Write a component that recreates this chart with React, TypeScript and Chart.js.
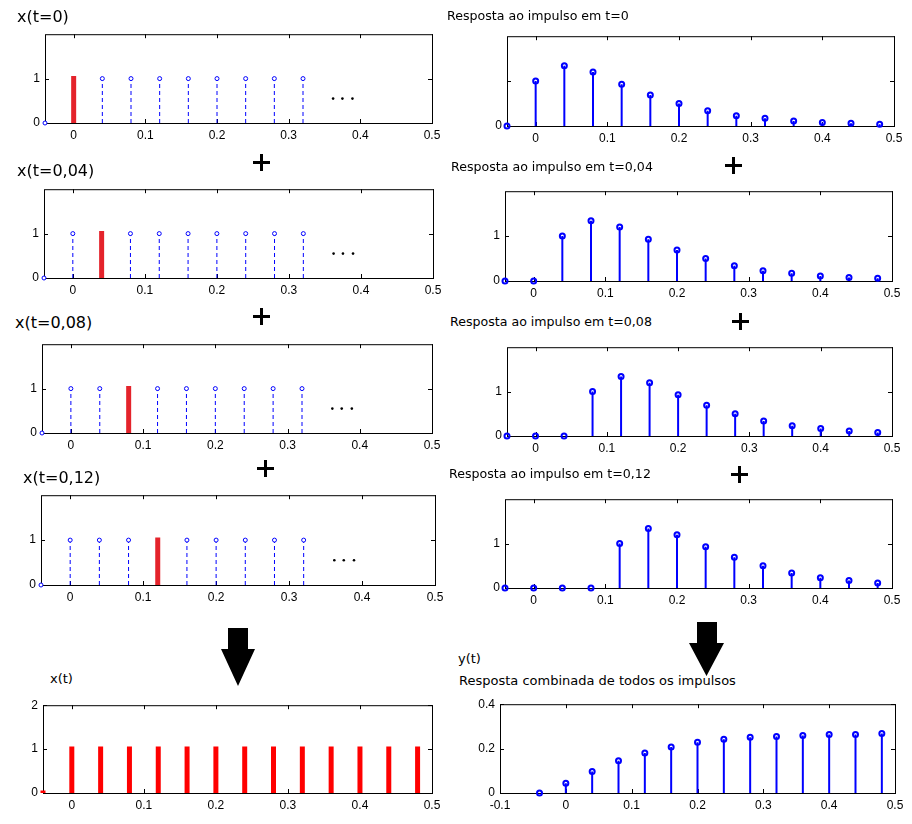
import React, { useEffect, useRef } from 'react';
import { Chart, registerables } from 'chart.js';
Chart.register(...registerables);

// ---------------- data ----------------
const tGrid = [-0.04, 0, 0.04, 0.08, 0.12, 0.16, 0.2, 0.24, 0.28, 0.32, 0.36, 0.4, 0.44, 0.48];
const impulseTimes = [0, 0.04, 0.08, 0.12, 0.16, 0.2, 0.24, 0.28, 0.32];
const impulseHeight = 1;
const highlighted = [0, 0.04, 0.08, 0.12];
const ellipsisT = [0.362, 0.375, 0.389];
const ellipsisY = [0.55, 0.55, 0.55];
const hResponse = [1, 1.34, 1.2, 0.93, 0.69, 0.5, 0.34, 0.23, 0.17, 0.11, 0.08, 0.06, 0.04];
const trainTimes = [0, 0.04, 0.08, 0.12, 0.16, 0.2, 0.24, 0.28, 0.32, 0.36, 0.4, 0.44, 0.48];
const trainValues = [1, 1, 1, 1, 1, 1, 1, 1, 1, 1, 1, 1, 1];
const yCombined = [0, 0.044, 0.097, 0.145, 0.18, 0.207, 0.229, 0.242, 0.251, 0.255, 0.259, 0.264, 0.264, 0.268];
const xTicks = [0, 0.1, 0.2, 0.3, 0.4, 0.5];
const xTicksCombined = [-0.1, 0, 0.1, 0.2, 0.3, 0.4, 0.5];
const yTicksUnit = [0, 1];
const yTicksTrain = [0, 1, 2];
const yTicksCombined = [0, 0.2, 0.4];
const leftTitles = ['x(t=0)', 'x(t=0,04)', 'x(t=0,08)', 'x(t=0,12)'];
const rightTitles = [
  'Resposta ao impulso em t=0',
  'Resposta ao impulso em t=0,04',
  'Resposta ao impulso em t=0,08',
  'Resposta ao impulso em t=0,12',
];

// ---------------- layout ----------------
const ML = 45, MR = 15, MT = 10, MB = 30;
const BLUE = '#0000ff';
const RED_TOP = '#e4232b';
const RED = '#ff0000';
const TICK_FONT = { family: '"Liberation Sans", Arial, sans-serif', size: 12 };

const fmt = (v: number) => (Math.abs(v) < 1e-9 ? '0' : String(Math.round(v * 100) / 100));

const stemData = (xs: number[], ys: number[]) =>
  xs.flatMap((x, i) => [{ x, y: 0 }, { x, y: ys[i] }, { x, y: null }]);
const pointData = (xs: number[], ys: number[]) => xs.map((x, i) => ({ x, y: ys[i] }));

const boxPlugin = {
  id: 'boxTicks',
  beforeDatasetsDraw(chart: any) {
    const { ctx, chartArea: a, scales } = chart;
    const xs = chart.options.plugins.boxTicks.x as number[];
    const ys = chart.options.plugins.boxTicks.y as number[];
    ctx.save();
    ctx.strokeStyle = '#000';
    ctx.lineWidth = 1;
    ctx.strokeRect(a.left + 0.5, a.top + 0.5, a.right - a.left, a.bottom - a.top);
    ctx.beginPath();
    const TL = 4;
    xs.forEach((v) => {
      const px = Math.round(scales.x.getPixelForValue(v)) + 0.5;
      ctx.moveTo(px, a.bottom); ctx.lineTo(px, a.bottom - TL);
      ctx.moveTo(px, a.top); ctx.lineTo(px, a.top + TL);
    });
    ys.forEach((v) => {
      const py = Math.round(scales.y.getPixelForValue(v)) + 0.5;
      ctx.moveTo(a.left, py); ctx.lineTo(a.left + TL, py);
      ctx.moveTo(a.right, py); ctx.lineTo(a.right - TL, py);
    });
    ctx.stroke();
    ctx.restore();
  },
};

type PanelSpec = {
  box: number[];
  xMin: number; xMax: number; xT: number[];
  yMin: number; yMax: number; yT: number[];
  yHidden?: number[];
  datasets: any[];
};

function StemPanel({ spec }: { spec: PanelSpec }) {
  const ref = useRef<HTMLCanvasElement>(null);
  const [L, T, R, B] = spec.box;
  const W = R - L + ML + MR;
  const H = B - T + MT + MB;
  useEffect(() => {
    const chart = new Chart(ref.current as HTMLCanvasElement, {
      type: 'line',
      data: { datasets: spec.datasets },
      options: {
        responsive: false,
        animation: false,
        devicePixelRatio: 1,
        events: [],
        layout: { padding: { top: MT, right: MR, left: 0, bottom: 0 } },
        plugins: {
          legend: { display: false },
          tooltip: { enabled: false },
          boxTicks: { x: spec.xT, y: spec.yT },
        } as any,
        scales: {
          x: {
            type: 'linear',
            min: spec.xMin,
            max: spec.xMax,
            grid: { display: false, drawTicks: false },
            border: { display: false },
            afterBuildTicks: (s: any) => { s.ticks = spec.xT.map((v) => ({ value: v })); },
            afterFit: (s: any) => { s.height = MB; },
            ticks: {
              font: TICK_FONT, color: '#000', padding: 5, maxRotation: 0, autoSkip: false,
              callback: (v: any) => fmt(Number(v)),
            },
          },
          y: {
            type: 'linear',
            min: spec.yMin,
            max: spec.yMax,
            grid: { display: false, drawTicks: false },
            border: { display: false },
            afterBuildTicks: (s: any) => { s.ticks = spec.yT.map((v) => ({ value: v })); },
            afterFit: (s: any) => { s.width = ML; },
            ticks: {
              font: TICK_FONT, color: '#000', padding: 5, autoSkip: false,
              callback: (v: any) => ((spec.yHidden || []).includes(Number(v)) ? '' : fmt(Number(v))),
            },
          },
        },
      } as any,
      plugins: [boxPlugin as any],
    });
    return () => chart.destroy();
  }, []);
  return (
    <canvas
      ref={ref}
      width={W}
      height={H}
      style={{ position: 'absolute', left: L - ML, top: T - MT, width: W, height: H }}
    />
  );
}

// ---------------- panel specs ----------------
const leftBoxes = [[45, 32, 432, 123], [44, 187, 433, 278], [42, 342, 432, 433], [41, 493, 435, 585]];
const rightBoxes = [[507, 34, 894, 126], [505, 189, 892, 281], [507, 345, 892, 436], [505, 497, 892, 588]];

const markerStyle = (color: string, r: number, bw: number, bg: string) => ({
  showLine: false,
  pointRadius: r,
  pointBorderWidth: bw,
  pointBorderColor: color,
  pointBackgroundColor: bg,
  pointHoverRadius: r,
  clip: false,
});

function leftSpec(k: number): PanelSpec {
  const tk = highlighted[k];
  const others = impulseTimes.filter((t) => t !== tk);
  const ones = others.map(() => impulseHeight);
  return {
    box: leftBoxes[k],
    xMin: -0.04, xMax: 0.5, xT: xTicks,
    yMin: 0, yMax: 2, yT: yTicksUnit,
    datasets: [
      { data: pointData([tGrid[0], ...others], [0, ...ones]), ...markerStyle(BLUE, 2, 1, '#fff'), order: 0 },
      { data: pointData(ellipsisT, ellipsisY), ...markerStyle('#000', 1.3, 0, '#000'), order: 0 },
      {
        data: stemData([tk], [impulseHeight]), borderColor: RED_TOP, borderWidth: 5,
        borderCapStyle: 'square', pointRadius: 0, spanGaps: false,
        clip: { left: 10, right: 10, top: 10, bottom: 0 }, order: 1,
      },
      {
        data: stemData(others, ones), borderColor: BLUE, borderWidth: 1, borderDash: [4, 3],
        pointRadius: 0, spanGaps: false, order: 2,
      },
    ],
  };
}

function rightSpec(k: number): PanelSpec {
  const vals = tGrid.map((_, i) => (i - 1 - k >= 0 ? hResponse[i - 1 - k] : 0));
  return {
    box: rightBoxes[k],
    xMin: -0.04, xMax: 0.5, xT: xTicks,
    yMin: 0, yMax: 2, yT: yTicksUnit,
    yHidden: k === 0 ? [1] : [],
    datasets: [
      { data: pointData(tGrid, vals), ...markerStyle(BLUE, 2.5, 2, 'rgba(0,0,0,0)'), order: 0 },
      { data: stemData(tGrid, vals), borderColor: BLUE, borderWidth: 2, pointRadius: 0, spanGaps: false, order: 1 },
    ],
  };
}

const trainSpec: PanelSpec = {
  box: [43, 703, 432, 793],
  xMin: -0.04, xMax: 0.5, xT: xTicks,
  yMin: 0, yMax: 2, yT: yTicksTrain,
  datasets: [
    {
      data: stemData([tGrid[0], ...trainTimes], [0, ...trainValues]), borderColor: RED, borderWidth: 5,
      borderCapStyle: 'square', pointRadius: 0, spanGaps: false,
      clip: { left: 10, right: 10, top: 10, bottom: 0 },
    },
  ],
};

const combinedSpec: PanelSpec = {
  box: [500, 702, 895, 793],
  xMin: -0.1, xMax: 0.5, xT: xTicksCombined,
  yMin: 0, yMax: 0.4, yT: yTicksCombined,
  datasets: [
    { data: pointData(tGrid, yCombined), ...markerStyle(BLUE, 2.5, 2, 'rgba(0,0,0,0)'), order: 0 },
    { data: stemData(tGrid, yCombined), borderColor: BLUE, borderWidth: 2, pointRadius: 0, spanGaps: false, order: 1 },
  ],
};

// ---------------- decorations ----------------
function Label({ text, left, baseline, size }: { text: string; left: number; baseline: number; size: number }) {
  return (
    <div
      style={{
        position: 'absolute', left, top: baseline - 0.846 * size,
        font: `${size}px "DejaVu Sans", sans-serif`, lineHeight: `${size}px`,
        whiteSpace: 'nowrap', color: '#000',
      }}
    >
      {text}
    </div>
  );
}

function Plus({ cx, cy }: { cx: number; cy: number }) {
  return (
    <svg style={{ position: 'absolute', left: cx - 8, top: cy - 8 }} width={17} height={17}>
      <rect x={0} y={7} width={17} height={3} fill="#000" />
      <rect x={7} y={0} width={3} height={17} fill="#000" />
    </svg>
  );
}

function Arrow({ sx0, sx1, top, hx0, hx1, htop, tip }: any) {
  const cx = (hx0 + hx1) / 2;
  const pts = [
    [sx0, top], [sx1, top], [sx1, htop], [hx1, htop], [cx, tip], [hx0, htop], [sx0, htop],
  ].map((p) => p.join(',')).join(' ');
  return (
    <svg style={{ position: 'absolute', left: 0, top: 0 }} width={912} height={824}>
      <polygon points={pts} fill="#000" />
    </svg>
  );
}

const leftLabelPos = [[17, 23], [17, 177], [15, 329], [23, 484]];
const rightLabelPos = [[447, 21], [451, 172], [450, 327], [449, 479]];

export default function App() {
  return (
    <div style={{ position: 'absolute', left: 0, top: 0, width: 912, height: 824, background: '#fff', overflow: 'hidden' }}>
      {[0, 1, 2, 3].map((k) => <StemPanel key={'l' + k} spec={leftSpec(k)} />)}
      {[0, 1, 2, 3].map((k) => <StemPanel key={'r' + k} spec={rightSpec(k)} />)}
      <StemPanel spec={trainSpec} />
      <StemPanel spec={combinedSpec} />
      {leftTitles.map((t, i) => (
        <Label key={'lt' + i} text={t} left={leftLabelPos[i][0]} baseline={leftLabelPos[i][1]} size={16} />
      ))}
      {rightTitles.map((t, i) => (
        <Label key={'rt' + i} text={t} left={rightLabelPos[i][0]} baseline={rightLabelPos[i][1]} size={12.6} />
      ))}
      <Label text="x(t)" left={50} baseline={683} size={13} />
      <Label text="y(t)" left={458} baseline={663} size={13} />
      <Label text="Resposta combinada de todos os impulsos" left={459} baseline={685} size={13} />
      <Plus cx={261} cy={162} />
      <Plus cx={261} cy={316} />
      <Plus cx={265} cy={468} />
      <Plus cx={733} cy={165} />
      <Plus cx={740} cy={321} />
      <Plus cx={739} cy={474} />
      <Arrow sx0={228} sx1={248} top={628} hx0={221} hx1={255} htop={649} tip={686} />
      <Arrow sx0={697} sx1={717} top={622} hx0={689} hx1={724} htop={643} tip={676} />
    </div>
  );
}
